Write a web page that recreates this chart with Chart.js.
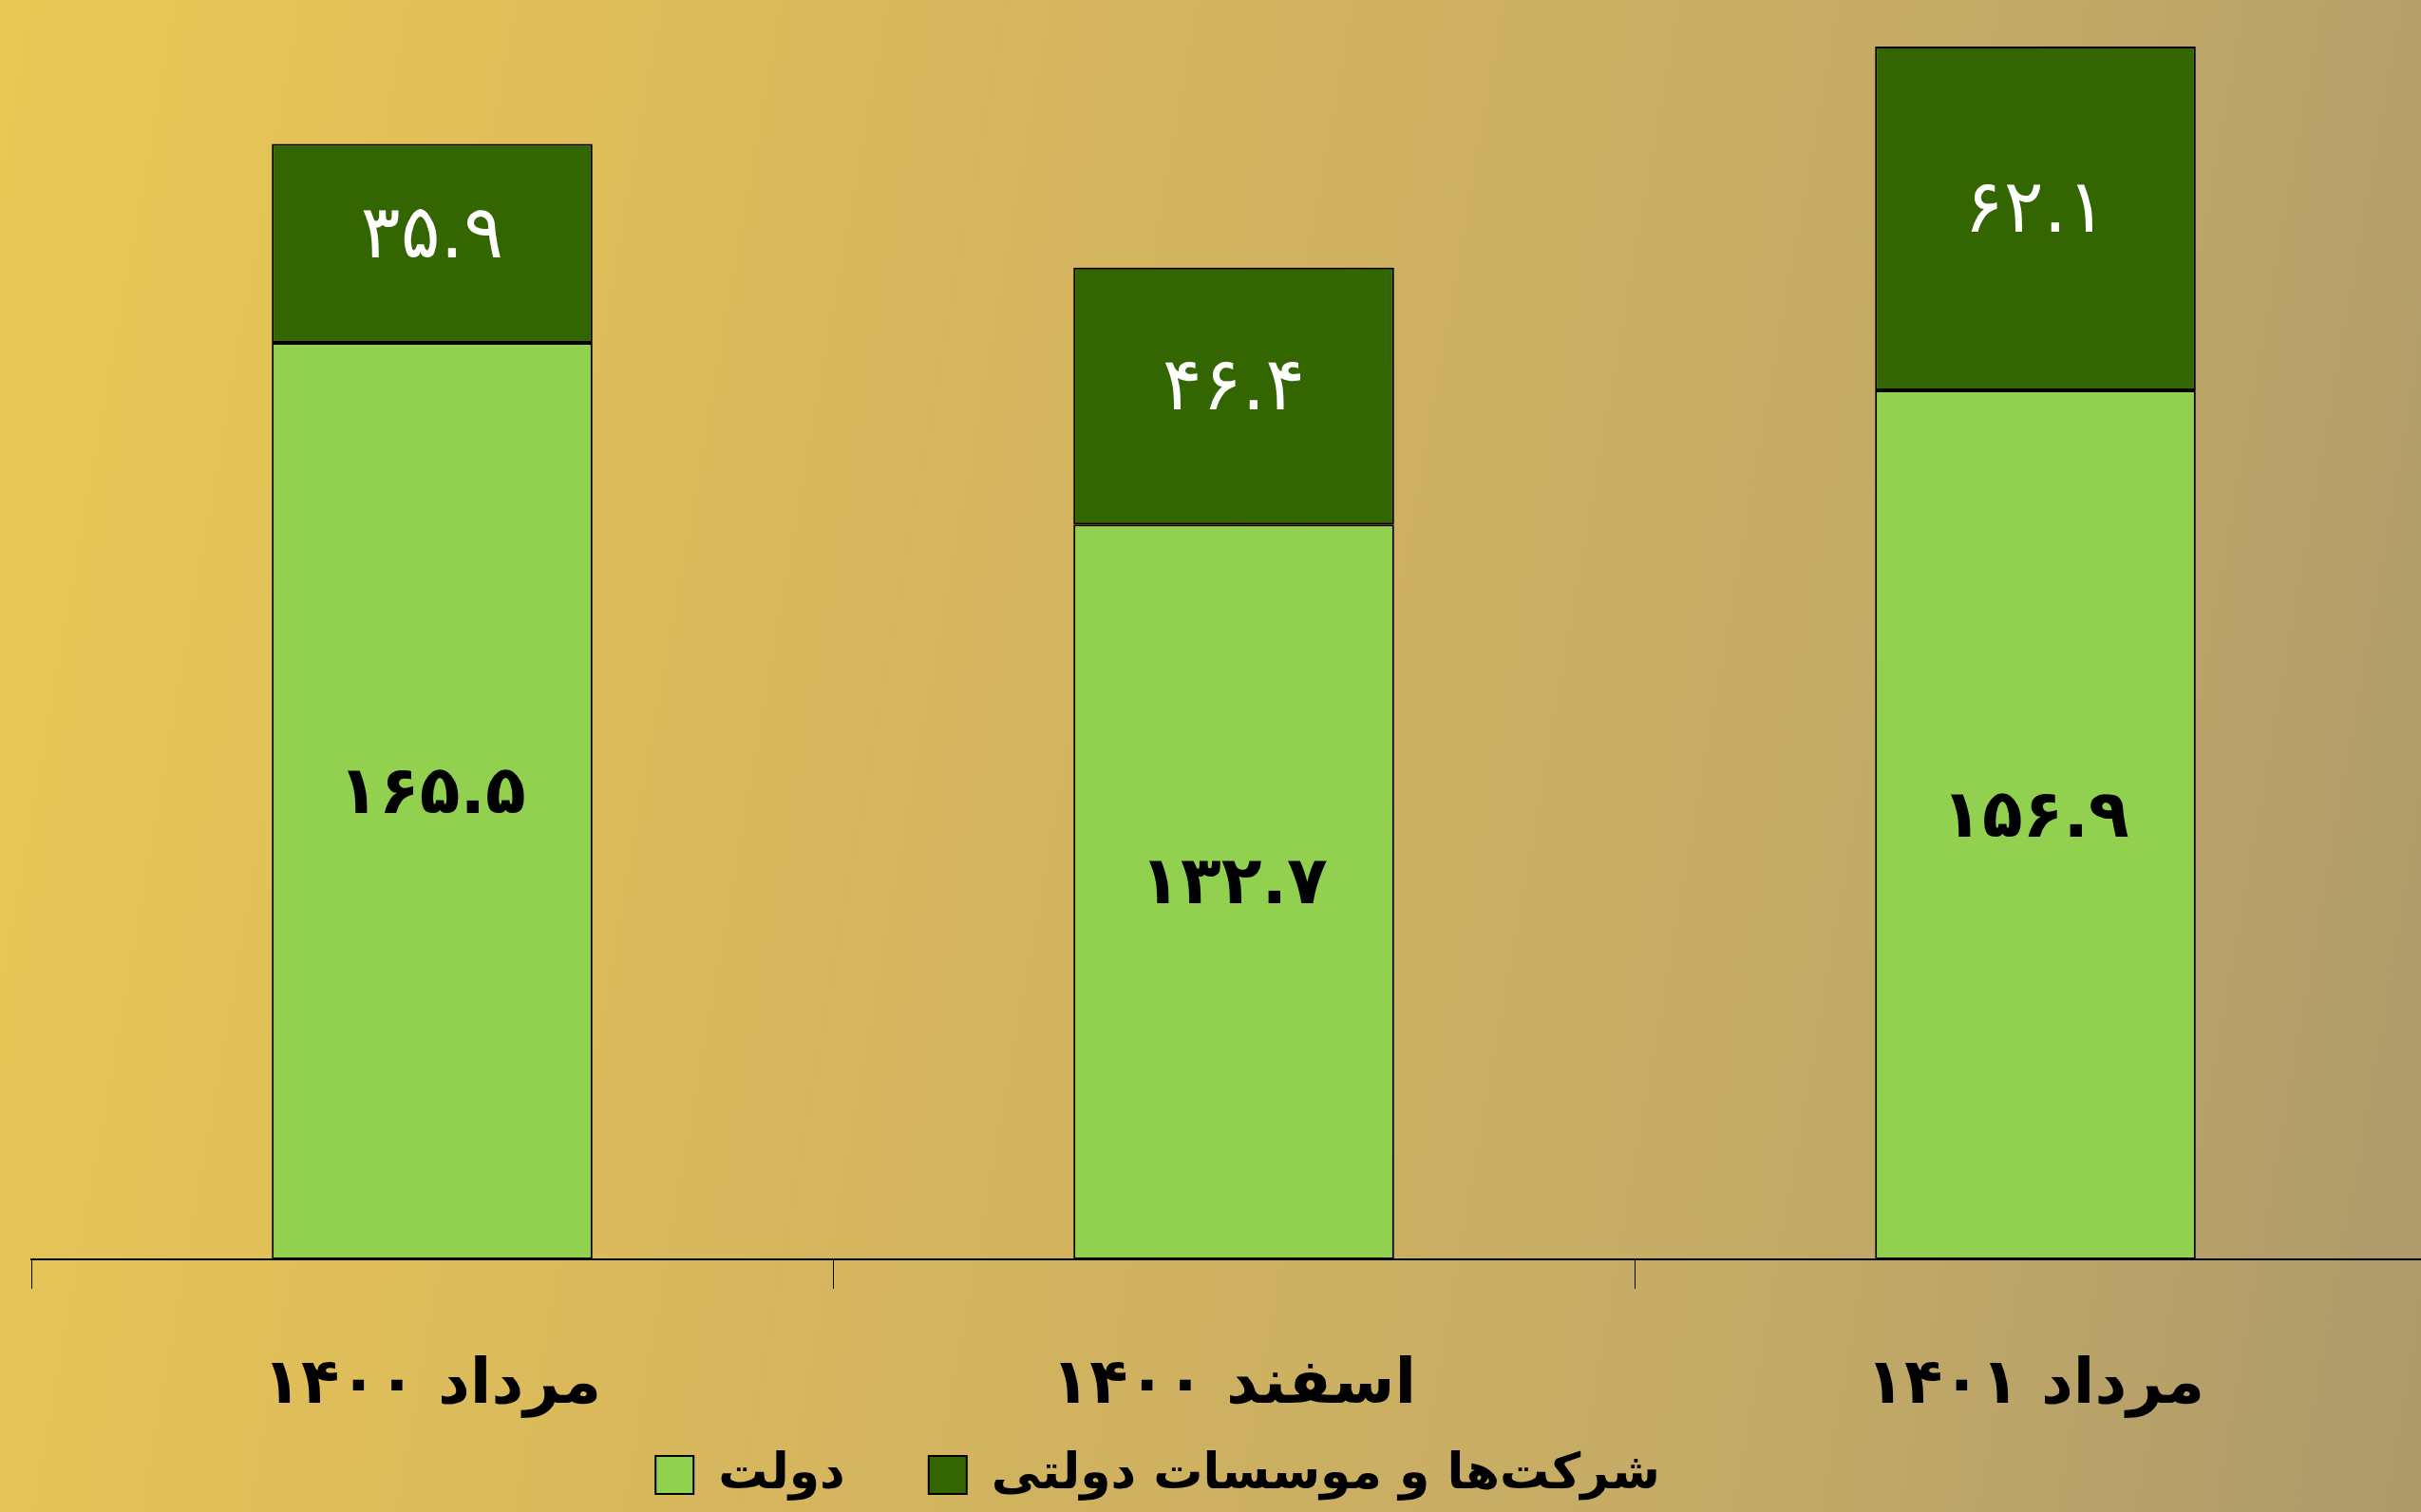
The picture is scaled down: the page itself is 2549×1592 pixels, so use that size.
<!DOCTYPE html>
<html>
<head>
<meta charset="utf-8">
<script src="https://cdn.jsdelivr.net/npm/chart.js@4"></script>
<style>
  html, body { margin: 0; padding: 0; overflow: hidden; width: 2549px; height: 1592px; }
  body { background: linear-gradient(100deg, #EAC855 0%, #D5B55E 40%, #C3AA66 75%, #AD9A6B 100%); }
  canvas { display: block; }
</style>
</head>
<body>
<canvas id="c" width="2565" height="1592"></canvas>
<script>
const categories = ['مرداد ۱۴۰۰', 'اسفند ۱۴۰۰', 'مرداد ۱۴۰۱'];
const seriesNames = ['دولت', 'شرکت\u200cها و موسسات دولتی'];
const governmentValues = [165.5, 132.7, 156.9];
const companyValues = [35.9, 46.4, 62.1];

const FONT = '"DejaVu Sans", sans-serif';
const faDigits = '۰۱۲۳۴۵۶۷۸۹';
const toFa = s => String(s).replace(/\d/g, d => faDigits[d]);

const labelPlugin = {
  id: 'segLabels',
  afterDatasetsDraw(chart) {
    const ctx = chart.ctx;
    chart.data.datasets.forEach((ds, di) => {
      const meta = chart.getDatasetMeta(di);
      meta.data.forEach((el, i) => {
        const p = el.getProps(['x', 'y', 'base'], true);
        ctx.save();
        ctx.textAlign = 'center';
        ctx.textBaseline = 'middle';
        ctx.font = (di === 0 ? 'bold 70px ' : '78px ') + FONT;
        ctx.fillStyle = di === 0 ? '#000000' : '#FFFFFF';
        ctx.fillText(toFa(ds.data[i].toFixed(1)), p.x, (p.y + p.base) / 2 - 6);
        ctx.restore();
      });
    });
  }
};

// shift legend to the reference's centre and keep the x labels unclipped
const layoutTweak = {
  id: 'layoutTweak',
  afterLayout(chart) {
    const l = chart.legend;
    if (l) { l.left -= 80; l.right -= 80; }
    const x = chart.scales.x;
    if (x && l) { x.bottom = l.bottom; }
  }
};

new Chart(document.getElementById('c'), {
  type: 'bar',
  data: {
    labels: categories,
    datasets: [
      { label: seriesNames[0], data: governmentValues, backgroundColor: '#92D050', borderColor: '#000000', borderWidth: 2, borderSkipped: false },
      { label: seriesNames[1], data: companyValues, backgroundColor: '#336600', borderColor: '#000000', borderWidth: 2, borderSkipped: false }
    ]
  },
  options: {
    responsive: false,
    animation: false,
    devicePixelRatio: 1,
    layout: { padding: { left: 33, right: 0, top: 0, bottom: 3 } },
    datasets: { bar: { categoryPercentage: 1, barPercentage: 0.4 } },
    scales: {
      x: {
        stacked: true,
        offset: true,
        grid: { offset: true, drawOnChartArea: false, drawTicks: true, tickLength: 31, color: '#000000', lineWidth: 1 },
        border: { display: true, color: '#000000', width: 2 },
        ticks: { color: '#000000', font: { family: FONT, size: 66, weight: 'bold' }, padding: 63, maxRotation: 0 },
        afterFit(scale) { scale.height = 113; }
      },
      y: { stacked: true, display: false, min: 0, max: 227.4 }
    },
    plugins: {
      tooltip: { enabled: false },
      legend: {
        position: 'bottom',
        labels: { color: '#000000', font: { family: FONT, size: 52, weight: 'bold' }, boxWidth: 40, boxHeight: 40, padding: 88 }
      }
    }
  },
  plugins: [labelPlugin, layoutTweak]
});
</script>
</body>
</html>
